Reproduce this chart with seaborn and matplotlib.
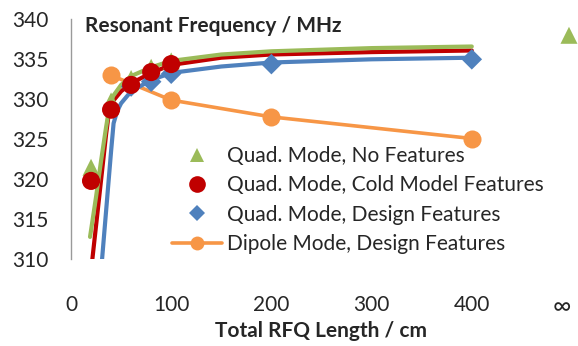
import numpy as np
import pandas as pd
import seaborn as sns
import matplotlib
matplotlib.use('Agg')
import matplotlib.pyplot as plt
from matplotlib.lines import Line2D

# measured points (length in cm, frequency in MHz)
no_feat_x = [20, 40, 60, 80, 100]
no_feat_y = [321.5, 329.8, 332.6, 334.0, 334.8]
inf_x = [497]          # position used for the "infinite length" point
inf_y = [338.0]

cold_x = [20, 40, 60, 80, 100]
cold_y = [319.8, 328.7, 331.8, 333.4, 334.4]

design_x = [60, 80, 100, 200, 400]
design_y = [331.6, 332.2, 333.2, 334.4, 335.0]

dipole_x = [40, 100, 200, 400]
dipole_y = [333.0, 329.9, 327.8, 325.1]

# fitted curves
fit_green_x = [19, 25, 30, 35, 38, 42, 50, 60, 80, 100, 150, 200, 300, 400]
fit_green_y = [312.8, 317.8, 322.3, 326.5, 328.8, 330.4, 331.8, 332.9, 334.0, 334.8, 335.6, 336.0, 336.4, 336.6]
fit_red_x = [21.3, 25, 30, 35, 38, 42, 50, 60, 80, 100, 150, 200, 300, 400]
fit_red_y = [310.0, 314.2, 319.9, 325.6, 328.5, 329.8, 331.0, 332.0, 333.3, 334.3, 335.2, 335.6, 335.9, 336.1]
fit_blue_x = [31, 35, 40, 42.5, 46, 50, 60, 80, 100, 150, 200, 300, 400]
fit_blue_y = [310.0, 316.0, 323.5, 327.0, 328.5, 329.5, 331.0, 332.4, 333.3, 334.1, 334.6, 335.0, 335.2]

xticks = [0, 100, 200, 300, 400, 490]
xticklabels = ['0', '100', '200', '300', '400', '∞']
yticks = [310, 315, 320, 325, 330, 335, 340]

labels = ['Quad. Mode, No Features', 'Quad. Mode, Cold Model Features',
          'Quad. Mode, Design Features', 'Dipole Mode, Design Features']

green = '#9BBB59'
red = '#C00000'
blue = '#4F81BD'
orange = '#F79646'

sns.set_style('white')
plt.rcParams['font.family'] = ['Lato', 'DejaVu Sans']
fs = 15

fig = plt.figure(figsize=(5.78, 3.46), dpi=100)
ax = fig.add_axes([71 / 578, 1 - 259.3 / 346, 1 - 71 / 578, (259.3 - 19.3) / 346])

# dipole line + markers (bottom)
sns.lineplot(x=dipole_x, y=dipole_y, color=orange, linewidth=2.6, ax=ax,
             marker='o', markersize=13, markeredgewidth=0, zorder=2)

# trend curves
sns.lineplot(x=fit_blue_x, y=fit_blue_y, color=blue, linewidth=3, ax=ax, zorder=3)
sns.lineplot(x=fit_red_x, y=fit_red_y, color=red, linewidth=3, ax=ax, zorder=4)
sns.lineplot(x=fit_green_x, y=fit_green_y, color=green, linewidth=3, ax=ax, zorder=5)

# measured markers
sns.scatterplot(x=design_x, y=design_y, marker='D', s=110, color=blue,
                edgecolor='none', ax=ax, zorder=6)
sns.scatterplot(x=no_feat_x + inf_x, y=no_feat_y + inf_y, marker='^', s=150,
                color=green, edgecolor='none', ax=ax, zorder=7, clip_on=False)
sns.scatterplot(x=cold_x, y=cold_y, marker='o', s=170, color=red,
                edgecolor='none', ax=ax, zorder=8)

ax.set_xlim(0, 506)
ax.set_ylim(310, 340)
ax.set_xticks(xticks)
ax.set_xticklabels(xticklabels)
ax.set_yticks(yticks)
ax.get_xticklines()[-2].set_visible(False)
ax.get_xticklabels()[-1].set_fontsize(18)

for s in ['top', 'right', 'bottom']:
    ax.spines[s].set_visible(False)
ax.spines['left'].set_color('#9A9A9A')
ax.spines['left'].set_linewidth(1)

ax.tick_params(axis='both', which='major', direction='out', length=6,
               width=1, color='#9A9A9A', labelsize=fs, labelcolor='#262626')
ax.tick_params(axis='x', pad=20)
ax.tick_params(axis='y', pad=10)
ax.get_xticklabels()[-1].set_fontsize(18)
ax.set_xlabel('')
ax.set_ylabel('')

handles = [
    Line2D([], [], linestyle='none', marker='^', markersize=10, color=green, markeredgewidth=0),
    Line2D([], [], linestyle='none', marker='o', markersize=12, color=red, markeredgewidth=0),
    Line2D([], [], linestyle='none', marker='D', markersize=8, color=blue, markeredgewidth=0),
    Line2D([], [], color=orange, linewidth=2.6, marker='o', markersize=10, markeredgewidth=0),
]
fig.legend(handles, labels, loc='upper left', bbox_to_anchor=(172 / 578, 1 - 146 / 346),
           frameon=False, fontsize=fs, handlelength=2.4, handletextpad=0.25,
           labelspacing=0.45, borderpad=0, borderaxespad=0, labelcolor='#262626')

fig.text(85 / 578, 1 - 26 / 346, 'Resonant Frequency / MHz', fontsize=fs,
         fontweight='bold', ha='left', va='center', color='#262626')
fig.text(321 / 578, 1 - 331 / 346, 'Total RFQ Length / cm', fontsize=fs,
         fontweight='bold', ha='center', va='center', color='#262626')

fig.savefig('out.png', dpi=100)
